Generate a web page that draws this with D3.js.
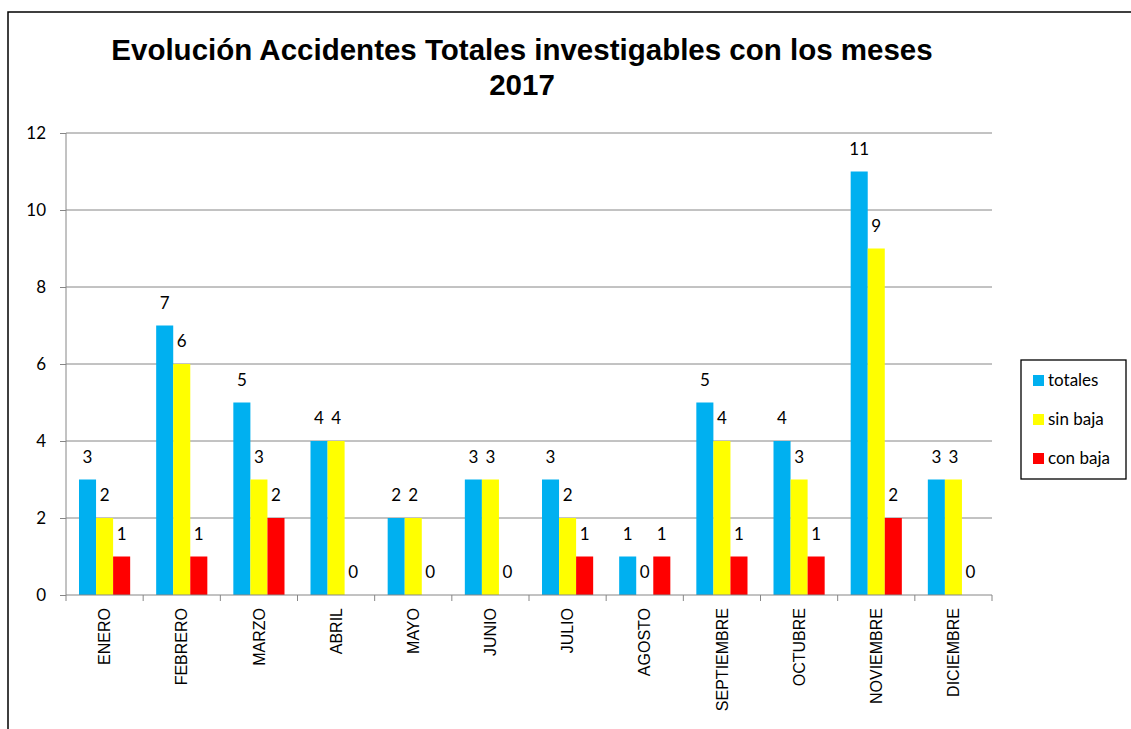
<!DOCTYPE html>
<html>
<head>
<meta charset="utf-8">
<script src="https://cdn.jsdelivr.net/npm/d3@7"></script>
<style>
  body { margin: 0; background: #fff; }
  svg { display: block; }
  .title { font-family: "Liberation Sans", Arial, sans-serif; font-weight: bold; font-size: 29.5px; }
  .lbl { font-family: Lato, "Open Sans", sans-serif; font-size: 17px; fill: #000; }
  .xlbl { font-family: "Liberation Sans", Arial, sans-serif; font-size: 16px; fill: #000; }
</style>
</head>
<body>
<div id="chart"></div>
<script>
// DATA
const months = ["ENERO", "FEBRERO", "MARZO", "ABRIL", "MAYO", "JUNIO", "JULIO",
                "AGOSTO", "SEPTIEMBRE", "OCTUBRE", "NOVIEMBRE", "DICIEMBRE"];
const seriesNames = ["totales", "sin baja", "con baja"];
const totales = [3, 7, 5, 4, 2, 3, 3, 1, 5, 4, 11, 3];
const sinBaja = [2, 6, 3, 4, 2, 3, 2, 0, 4, 3, 9, 3];
const conBaja = [1, 1, 2, 0, 0, 0, 1, 1, 1, 1, 2, 0];
const yTicks = [0, 2, 4, 6, 8, 10, 12];
const colors = ["#00B0F0", "#FFFF00", "#FF0000"];

const W = 1131, H = 729;
const plot = { left: 66, right: 992, top: 133, bottom: 595 };

const svg = d3.select("#chart").append("svg")
    .attr("width", W)
    .attr("height", H);

// outer frame (only top and left edges are visible)
svg.append("path")
    .attr("d", `M8,${H} L8,12 L${W},12`)
    .attr("fill", "none")
    .attr("stroke", "#000")
    .attr("stroke-width", 1.5);

// title
const title = svg.append("text")
    .attr("class", "title")
    .attr("text-anchor", "middle");
title.append("tspan").attr("x", 522).attr("y", 60)
    .text("Evolución Accidentes Totales investigables con los meses");
title.append("tspan").attr("x", 522).attr("y", 95).text("2017");

// scales
const x = d3.scaleBand().domain(months).range([plot.left, plot.right]);
const xs = d3.scaleBand().domain(seriesNames).range([13, x.bandwidth() - 13]);
const y = d3.scaleLinear().domain([0, 12]).range([plot.bottom, plot.top]);

// gridlines
svg.append("g")
    .selectAll("line")
    .data(yTicks.filter(d => d > 0))
    .join("line")
    .attr("x1", plot.left).attr("x2", plot.right)
    .attr("y1", d => y(d)).attr("y2", d => y(d))
    .attr("stroke", "#868686");

// y axis
const yAxis = svg.append("g")
    .attr("transform", `translate(${plot.left},0)`)
    .call(d3.axisLeft(y).tickValues(yTicks).tickSize(6).tickPadding(14));
yAxis.selectAll("line, path").attr("stroke", "#868686");
yAxis.select(".domain").attr("d", `M0,${plot.top}V${plot.bottom}`);
yAxis.selectAll("text").attr("class", "lbl").attr("font-size", null).attr("font-family", null);

// bars
const rows = months.map((m, i) => ({ month: m, values: [totales[i], sinBaja[i], conBaja[i]] }));
const groups = svg.append("g")
    .selectAll("g")
    .data(rows)
    .join("g")
    .attr("transform", d => `translate(${x(d.month)},0)`);

groups.selectAll("rect")
    .data(d => d.values.map((v, k) => ({ key: seriesNames[k], v, k })))
    .join("rect")
    .attr("x", d => xs(d.key))
    .attr("width", xs.bandwidth())
    .attr("y", d => y(d.v))
    .attr("height", d => y(0) - y(d.v))
    .attr("fill", d => colors[d.k]);

groups.selectAll("text")
    .data(d => d.values.map((v, k) => ({ key: seriesNames[k], v, k })))
    .join("text")
    .attr("class", "lbl")
    .attr("text-anchor", "middle")
    .attr("x", d => xs(d.key) + xs.bandwidth() / 2)
    .attr("y", d => y(d.v) - 17)
    .text(d => d.v);

// x axis
const xAxis = svg.append("g")
    .attr("transform", `translate(0,${plot.bottom})`)
    .call(d3.axisBottom(x).tickSize(0).tickPadding(0));
xAxis.select(".domain").attr("stroke", "#868686").attr("d", `M${plot.left},0H${plot.right}`);
xAxis.selectAll(".tick text")
    .attr("class", "xlbl")
    .attr("font-size", null).attr("font-family", null)
    .attr("transform", "rotate(-90)")
    .attr("text-anchor", "end")
    .attr("x", -13)
    .attr("y", 0)
    .attr("dy", "0.35em");

// category boundary ticks
svg.append("g")
    .selectAll("line")
    .data(months.map(m => x(m)).concat([plot.right]))
    .join("line")
    .attr("x1", d => d).attr("x2", d => d)
    .attr("y1", plot.bottom).attr("y2", plot.bottom + 6)
    .attr("stroke", "#868686");

// legend
const legend = svg.append("g").attr("transform", "translate(1021,360)");
legend.append("rect")
    .attr("width", 105).attr("height", 119)
    .attr("fill", "#fff").attr("stroke", "#000").attr("stroke-width", 1.3);
const li = legend.selectAll("g.item")
    .data(seriesNames)
    .join("g")
    .attr("class", "item")
    .attr("transform", (d, i) => `translate(12,${20 + i * 39})`);
li.append("rect")
    .attr("x", 0).attr("y", -5).attr("width", 11).attr("height", 11)
    .attr("fill", (d, i) => colors[i]);
li.append("text")
    .attr("class", "lbl")
    .attr("x", 15)
    .attr("dy", "0.35em")
    .text(d => d);
</script>
</body>
</html>
